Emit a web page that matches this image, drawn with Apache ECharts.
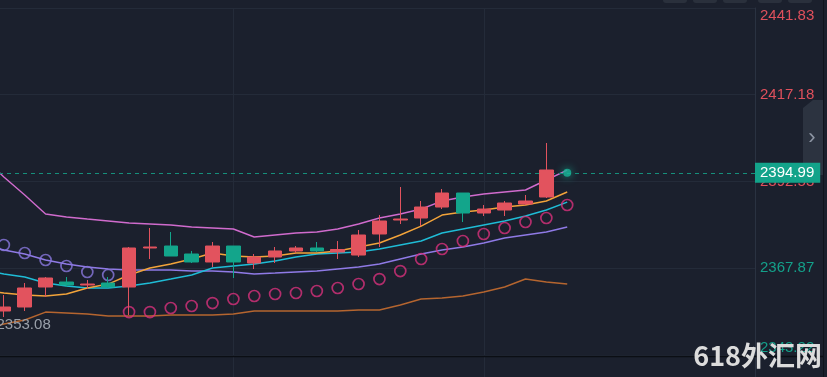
<!DOCTYPE html>
<html>
<head>
<meta charset="utf-8">
<script src="https://cdn.jsdelivr.net/npm/echarts@6/dist/echarts.min.js"></script>
<style>
  html, body { margin: 0; padding: 0; background: #1b202d; }
  #main { width: 827px; height: 377px; }
</style>
</head>
<body>
<div id="main"></div>
<script type="text/javascript">
	// 时间轴（标签被裁掉，只用来排列K线），最后几格是空的
	var categories = [];
	for (var k = 0; k < 38; k++) {
		var m = 6 * 60 + 45 + k * 15;
		categories.push(('0' + Math.floor(m / 60) % 24).slice(-2) + ':' + ('0' + m % 60).slice(-2));
	}
	// K线 [开, 收, 低, 高]，第一根在画面左边外面
	var candles = [
		[2353.73, 2356.57, 2353.08, 2358.85],
		[2355.72, 2356.86, 2354.01, 2360.27],
		[2356.86, 2362.26, 2355.72, 2363.68],
		[2362.54, 2365.10, 2359.70, 2365.38],
		[2363.96, 2363.11, 2362.54, 2365.38],
		[2363.11, 2363.39, 2361.97, 2364.53],
		[2363.68, 2362.54, 2362.26, 2365.38],
		[2362.54, 2373.63, 2354.58, 2373.91],
		[2373.63, 2373.91, 2370.50, 2379.31],
		[2374.19, 2371.35, 2371.35, 2378.17],
		[2371.92, 2369.65, 2369.36, 2372.78],
		[2369.65, 2374.19, 2368.22, 2375.33],
		[2374.19, 2369.65, 2365.10, 2374.19],
		[2369.36, 2371.07, 2367.65, 2371.92],
		[2371.07, 2372.78, 2369.36, 2373.91],
		[2372.78, 2373.63, 2372.21, 2374.19],
		[2373.63, 2372.78, 2372.49, 2375.33],
		[2372.49, 2373.20, 2370.50, 2375.62],
		[2371.63, 2377.32, 2371.07, 2378.74],
		[2377.61, 2381.30, 2373.91, 2383.00],
		[2381.58, 2381.86, 2380.44, 2390.96],
		[2382.15, 2385.27, 2379.87, 2386.98],
		[2385.27, 2389.25, 2384.70, 2390.39],
		[2389.25, 2383.57, 2381.01, 2389.25],
		[2383.57, 2384.70, 2382.72, 2385.84],
		[2384.42, 2386.41, 2382.72, 2386.98],
		[2386.13, 2386.98, 2385.84, 2388.69],
		[2388.12, 2395.79, 2387.83, 2403.47],
		'-'
	];
	var lastPrice = 2394.99;   // 当前价（最后一根刚开）
	var lowPrice = 2353.08;    // 可见区间最低价
	var bandUpper = [2399.48, 2393.80, 2388.69, 2383.28, 2382.43, 2381.86, 2381.30, 2380.73, 2380.44, 2380.16,
		2379.59, 2379.31, 2379.02, 2376.75, 2377.32, 2377.89, 2378.17, 2379.02, 2380.44, 2382.15,
		2383.28, 2384.70, 2386.98, 2388.12, 2388.97, 2389.54, 2390.11, 2392.95, 2395.79];
	var maFast = [2361.69, 2360.84, 2360.27, 2359.99, 2360.56, 2362.26, 2363.39, 2365.95, 2367.94, 2369.07,
		2370.50, 2372.21, 2371.35, 2371.07, 2371.35, 2372.21, 2372.21, 2372.78, 2373.91, 2375.05,
		2377.32, 2379.87, 2383.00, 2383.85, 2384.42, 2385.27, 2385.84, 2386.98, 2389.54];
	var maMid = [2367.37, 2366.23, 2365.38, 2363.68, 2362.83, 2362.26, 2362.26, 2362.83, 2363.68, 2364.81,
		2365.95, 2367.94, 2368.51, 2369.07, 2369.93, 2371.07, 2371.92, 2372.21, 2372.49, 2373.34,
		2374.48, 2375.62, 2377.89, 2379.02, 2380.16, 2381.30, 2382.72, 2384.42, 2386.69];
	var maSlow = [2374.48, 2373.06, 2371.92, 2370.21, 2369.07, 2368.22, 2367.65, 2367.37, 2367.37, 2367.37,
		2367.08, 2367.08, 2366.80, 2366.23, 2366.51, 2366.80, 2367.08, 2367.65, 2368.22, 2369.07,
		2370.50, 2371.92, 2373.06, 2373.91, 2375.05, 2376.47, 2377.32, 2378.17, 2379.59];
	var bandLower = [2350.32, 2352.03, 2353.16, 2355.43, 2355.15, 2354.86, 2354.29, 2354.29, 2354.29, 2354.58,
		2354.58, 2354.58, 2354.86, 2355.72, 2355.72, 2355.72, 2355.72, 2355.72, 2356.00, 2356.00,
		2357.42, 2359.13, 2359.41, 2359.99, 2361.12, 2362.54, 2364.81, 2363.96, 2363.39];
	// SAR 抛物线，前几根在价格上方（紫色），之后翻到下方（粉色）
	var sar = [null, 2374.48, 2372.21, 2370.21, 2368.51, 2366.80, 2365.95,
		2355.43, 2355.43, 2356.57, 2357.14, 2357.99, 2359.13, 2359.99, 2360.56, 2360.84, 2361.41,
		2362.26, 2363.39, 2364.81, 2367.08, 2370.50, 2373.34, 2375.62, 2377.61, 2379.31, 2381.01,
		2382.15, 2385.84];
	var sarFlip = 7;
	var yTicks = [2343.22, 2367.87, 2392.53, 2417.18, 2441.83];
	var refPrice = 2380; // 高于参考价的刻度标红

	var UP = '#e2535e', DOWN = '#13a58b', GRID = '#242b39';
	var sarAbove = sar.map(function (v, i) { return i < sarFlip ? v : null; });
	var sarBelow = sar.map(function (v, i) { return i >= sarFlip ? v : null; });
	var lastIdx = candles.length - 1;
	function showSplit(idx) { return idx === 12 || idx === 24; }

	function lineSeries(data, color) {
		return {
			type: 'line', data: data, showSymbol: false, silent: true,
			lineStyle: {color: color, width: 1.4}, z: 3
		};
	}
	function sarSeries(data, color) {
		return {
			type: 'scatter', data: data, symbol: 'circle', symbolSize: 11, silent: true,
			itemStyle: {color: 'transparent', borderColor: color, borderWidth: 1.7}, z: 4
		};
	}

	var chart = echarts.init(document.getElementById('main'));
	chart.setOption({
		backgroundColor: '#1b202d',
		animation: false,
		grid: [
			{left: -17, right: 72, top: 8, bottom: 22, outerBoundsMode: 'none'},
			{left: -17, right: 72, top: 357, height: 40, outerBoundsMode: 'none'}
		],
		xAxis: [
			{
				type: 'category', data: categories, boundaryGap: false, gridIndex: 0,
				axisLine: {show: false}, axisTick: {show: false}, axisLabel: {show: false},
				splitLine: {show: true, interval: showSplit, lineStyle: {color: GRID, width: 1}}
			},
			{
				type: 'category', data: categories, boundaryGap: false, gridIndex: 1,
				axisLine: {show: false}, axisTick: {show: false}, axisLabel: {show: false},
				splitLine: {show: true, interval: showSplit, lineStyle: {color: GRID, width: 1}}
			}
		],
		yAxis: [
			{
				type: 'value', position: 'right', gridIndex: 0,
				min: yTicks[0], max: yTicks[yTicks.length - 1], scale: true,
				axisLine: {show: true, lineStyle: {color: '#2a3241'}},
				axisTick: {show: false, customValues: yTicks},
				splitLine: {show: true, lineStyle: {color: GRID, width: 1}},
				axisLabel: {
					customValues: yTicks, margin: 5, fontSize: 15,
					verticalAlignMinLabel: 'bottom', verticalAlignMaxLabel: 'top',
					formatter: function (v) { return v.toFixed(2); },
					color: function (v) { return v > refPrice ? '#e0505c' : '#14a08a'; }
				}
			},
			{
				type: 'value', position: 'right', gridIndex: 1,
				axisLine: {show: true, lineStyle: {color: '#2a3241'}},
				axisTick: {show: false}, axisLabel: {show: false}, splitLine: {show: false}
			}
		],
		series: [
			lineSeries(bandLower, '#b5652f'),
			lineSeries(maSlow, '#8f7ae6'),
			lineSeries(maMid, '#1fbcd6'),
			lineSeries(maFast, '#f3a43a'),
			lineSeries(bandUpper, '#d06bcd'),
			sarSeries(sarAbove, '#8a78de'),
			sarSeries(sarBelow, '#d8317c'),
			{
				type: 'candlestick', data: candles, barWidth: 14, silent: true, z: 5,
				itemStyle: {color: UP, color0: DOWN, borderColor: UP, borderColor0: DOWN, borderWidth: 1},
				markLine: {
					silent: true, symbol: ['none', 'none'],
					lineStyle: {color: '#168f7b', type: [4, 4], width: 1},
					label: {
						position: 'end', distance: 0, fontSize: 15, color: '#ffffff',
						backgroundColor: '#13a38a', padding: [3, 6, 2, 5],
						formatter: function () { return lastPrice.toFixed(2); }
					},
					data: [{yAxis: lastPrice}]
				},
				markPoint: {
					silent: true, symbol: 'circle', symbolSize: 1,
					itemStyle: {color: 'transparent'},
					label: {
						show: true, position: 'right', distance: 13, offset: [0, 5],
						color: '#9aa0aa', fontSize: 15,
						formatter: function () { return lowPrice.toFixed(2); }
					},
					data: [{coord: [categories[0], lowPrice]}]
				}
			},
			{
				type: 'scatter', silent: true, z: 6,
				data: [[categories[lastIdx], lastPrice]],
				symbolSize: 8,
				itemStyle: {color: '#18b497', shadowBlur: 8, shadowColor: '#18b497'}
			}
		],
		graphic: [
			// 上下两个面板之间的黑色分隔线、右侧边框
			{type: 'line', shape: {x1: 0, y1: 356.5, x2: 823, y2: 356.5}, style: {stroke: '#0b0e14', lineWidth: 1.5}, z: 10},
			{type: 'line', shape: {x1: 823.5, y1: 0, x2: 823.5, y2: 377}, style: {stroke: '#10141c', lineWidth: 1}, z: 10},
			// 顶部工具按钮（只露出下沿）
			{type: 'rect', shape: {x: 663, y: -10, width: 24, height: 13, r: 3}, style: {fill: '#2a303c'}},
			{type: 'rect', shape: {x: 693, y: -10, width: 24, height: 13, r: 3}, style: {fill: '#2a303c'}},
			{type: 'rect', shape: {x: 723, y: -10, width: 24, height: 13, r: 3}, style: {fill: '#2a303c'}},
			{type: 'rect', shape: {x: 758, y: -10, width: 24, height: 13, r: 3}, style: {fill: '#2a303c'}},
			{type: 'rect', shape: {x: 788, y: -10, width: 24, height: 13, r: 3}, style: {fill: '#2a303c'}},
			// 右侧收起按钮
			{type: 'polygon', shape: {points: [[803, 108], [813, 100], [823, 100], [823, 175], [803, 175]]}, style: {fill: '#2c3340'}, z: 1},
			{type: 'text', x: 812, y: 138, style: {text: '›', fill: '#8d95a3', font: '22px sans-serif', align: 'center', verticalAlign: 'middle'}, z: 1},
			// 水印
			{type: 'text', right: 5, bottom: 8, style: {text: '618外汇网', fill: '#dcdcdc', font: 'bold 27px "Noto Sans CJK SC"'}, z: 20}
		]
	});
</script>
</body>
</html>
